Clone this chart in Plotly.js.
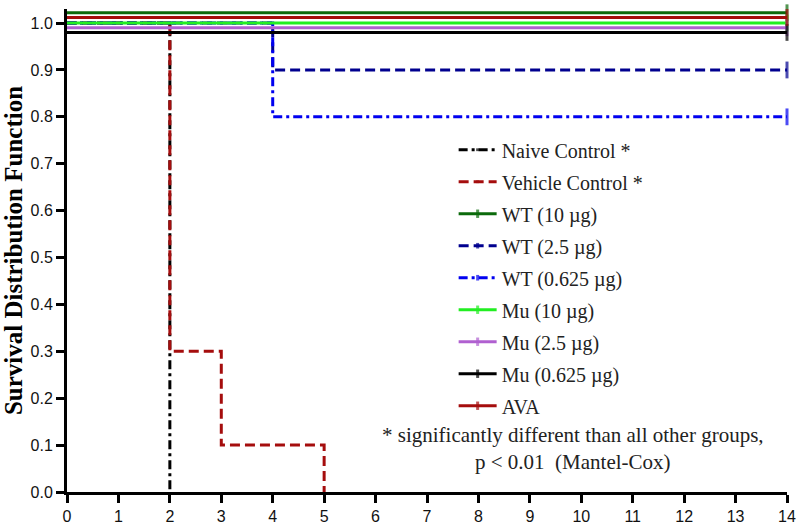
<!DOCTYPE html>
<html>
<head>
<meta charset="utf-8">
<script src="https://cdn.plot.ly/plotly-3.0.1.min.js"></script>
<style>html,body{margin:0;padding:0;background:#fff;}#chart{width:800px;height:526px;}</style>
</head>
<body>
<div id="chart"></div>
<script>
// Group names
const groupNames = ["Naive Control *", "Vehicle Control *", "WT (10 \u00b5g)", "WT (2.5 \u00b5g)", "WT (0.625 \u00b5g)", "Mu (10 \u00b5g)", "Mu (2.5 \u00b5g)", "Mu (0.625 \u00b5g)", "AVA"];
// Step-curve event times (days) and survival fractions for each group
const naiveDays = [0, 2];
const naiveSurv = [1.0, 0.0];
const vehicleDays = [0, 2, 3, 5];
const vehicleSurv = [1.0, 0.3, 0.1, 0.0];
const wt10Days = [0, 14];
const wt10Surv = [1.022, 1.022];
const wt25Days = [0, 4, 14];
const wt25Surv = [1.0, 0.9, 0.9];
const wt0625Days = [0, 4, 14];
const wt0625Surv = [1.0, 0.8, 0.8];
const mu10Days = [0, 14];
const mu10Surv = [1.0, 1.0];
const mu25Days = [0, 14];
const mu25Surv = [0.99, 0.99];
const mu0625Days = [0, 14];
const mu0625Surv = [0.98, 0.98];
const avaDays = [0, 14];
const avaSurv = [1.012, 1.012];
// Censored at end of study (1 = censor tick at that point)
const naiveCens = [0, 0];
const vehicleCens = [0, 0, 0, 0];
const wt10Cens = [0, 1];
const wt25Cens = [0, 0, 1];
const wt0625Cens = [0, 0, 1];
const mu10Cens = [0, 1];
const mu25Cens = [0, 1];
const mu0625Cens = [0, 1];
const avaCens = [0, 1];

const xTicks = [0,1,2,3,4,5,6,7,8,9,10,11,12,13,14];
const yTicks = [0,0.1,0.2,0.3,0.4,0.5,0.6,0.7,0.8,0.9,1.0];

const series = [
  {x: naiveDays, y: naiveSurv, c: naiveCens, color: "#000000", dash: "9px,4px,3px,4px"},
  {x: vehicleDays, y: vehicleSurv, c: vehicleCens, color: "#a50d0d", dash: "10px,5px"},
  {x: wt10Days, y: wt10Surv, c: wt10Cens, color: "#0b6a0b", dash: "solid"},
  {x: wt25Days, y: wt25Surv, c: wt25Cens, color: "#00008f", dash: "10px,5px"},
  {x: wt0625Days, y: wt0625Surv, c: wt0625Cens, color: "#0000f0", dash: "9px,4px,3px,4px"},
  {x: mu10Days, y: mu10Surv, c: mu10Cens, color: "#22ee22", dash: "solid"},
  {x: mu25Days, y: mu25Surv, c: mu25Cens, color: "#b060d0", dash: "solid"},
  {x: mu0625Days, y: mu0625Surv, c: mu0625Cens, color: "#000000", dash: "solid"},
  {x: avaDays, y: avaSurv, c: avaCens, color: "#a50d0d", dash: "solid"}
];

// draw order: dashed curves underneath, solid survivor lines on top; legend keeps original order
const drawOrder = [0, 1, 3, 4, 2, 5, 6, 7, 8];
const traces = drawOrder.map(i => {
  const s = series[i];
  return {
    type: "scatter",
    mode: "lines+markers",
    name: groupNames[i],
    x: s.x,
    y: s.y,
    line: {shape: "hv", color: s.color, width: 3, dash: s.dash},
    marker: {symbol: "line-ns", size: s.c.map(v => v ? 12 : 0), line: {color: s.color, width: 3}, color: s.color},
    legendgroup: "g" + i,
    legendrank: i + 1,
    cliponaxis: false,
    hoverinfo: "skip"
  };
});

const serif = "Liberation Serif, Times New Roman, serif";
const sans = "Liberation Sans, Arial, sans-serif";

const layout = {
  width: 800, height: 526,
  margin: {l: 67, r: 13, t: 9, b: 34},
  paper_bgcolor: "#fff", plot_bgcolor: "#fff",
  showlegend: true,
  legend: {
    x: 0.537, y: 0.749, xanchor: "left", yanchor: "top",
    font: {family: serif, size: 20, color: "#222"},
    bgcolor: "rgba(0,0,0,0)",
    itemwidth: 38,
    tracegroupgap: 3,
    traceorder: "grouped"
  },
  xaxis: {
    range: [0, 14], tickvals: xTicks, ticktext: xTicks.map(String),
    showgrid: false, zeroline: false, showline: true, linecolor: "#000", linewidth: 3,
    ticks: "outside", ticklen: 8, tickwidth: 3, tickcolor: "#000",
    tickfont: {family: sans, size: 16, color: "#111"}, fixedrange: true
  },
  yaxis: {
    range: [0, 1.03], tickvals: yTicks, ticktext: yTicks.map(v => v.toFixed(1)),
    showgrid: false, zeroline: false, showline: true, linecolor: "#000", linewidth: 3,
    ticks: "outside", ticklen: 8, tickwidth: 3, tickcolor: "#000",
    tickfont: {family: sans, size: 16, color: "#111"},
    title: {text: "<b>Survival Distribution Function</b>", font: {family: serif, size: 25, color: "#000"}, standoff: 1},
    fixedrange: true
  },
  annotations: [
    {xref: "paper", yref: "paper", x: 0.703, y: 0.117, xanchor: "center", yanchor: "middle", showarrow: false,
     text: "* significantly different than all other groups,", font: {family: serif, size: 21, color: "#222"}},
    {xref: "paper", yref: "paper", x: 0.703, y: 0.063, xanchor: "center", yanchor: "middle", showarrow: false,
     text: "p < 0.01  (Mantel-Cox)", font: {family: serif, size: 21, color: "#222"}}
  ]
};

Plotly.newPlot("chart", traces, layout, {displayModeBar: false, staticPlot: true});
</script>
</body>
</html>
